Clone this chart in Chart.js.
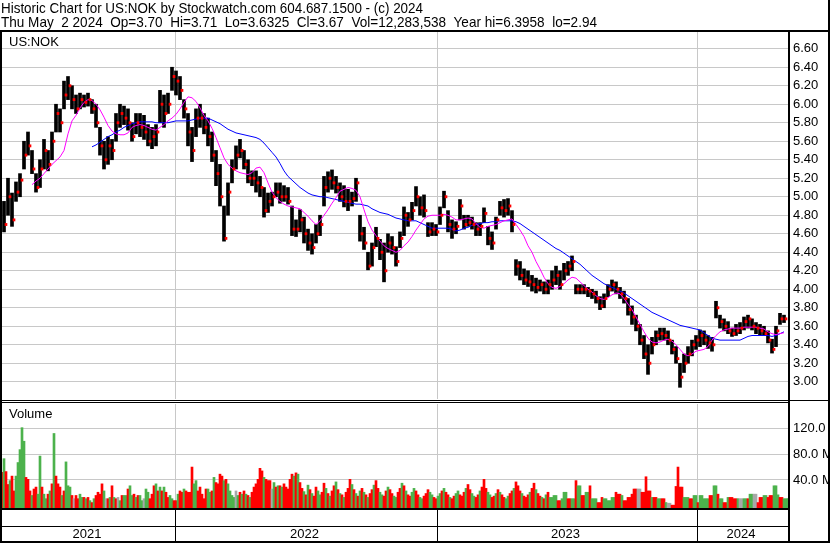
<!DOCTYPE html>
<html>
<head>
<meta charset="utf-8">
<script src="https://cdn.jsdelivr.net/npm/chart.js@4.4.1/dist/chart.umd.min.js"></script>
<style>
html,body{margin:0;padding:0;background:#fff;overflow:hidden;}
#wrap{position:relative;width:830px;height:543px;}
canvas{display:block;}
</style>
</head>
<body>
<div id="wrap"><canvas id="c" width="830" height="543"></canvas></div>
<script>
// ---------------- DATA ----------------
const titleLine1 = 'Historic Chart for US:NOK by Stockwatch.com 604.687.1500 - (c) 2024';
const titleLine2 = 'Thu May  2 2024  Op=3.70  Hi=3.71  Lo=3.6325  Cl=3.67  Vol=12,283,538  Year hi=6.3958  lo=2.94';
const symbolLabel = 'US:NOK';
const volumeLabel = 'Volume';

// trading-day positions
const yearLabels = ['2021', '2022', '2023', '2024'];
const yearStartDays = [173, 435, 695];
const firstDay = 0, lastDay = 786;

const priceTicks = [3.00, 3.20, 3.40, 3.60, 3.80, 4.00, 4.20, 4.40, 4.60, 4.80, 5.00, 5.20, 5.40, 5.60, 5.80, 6.00, 6.20, 6.40, 6.60];
const volumeTicks = [40, 80, 120]; // millions

// price bars, one per 4 trading days
const priceLow = [
4.62,4.80,4.68,4.95,5.00,5.30,5.45,5.25,5.05,5.10,5.30,5.28,5.40,5.70,5.70,5.95,6.05,5.95,5.90,5.95,
5.97,5.98,5.90,5.75,5.45,5.30,5.35,5.40,5.60,5.75,5.78,5.72,5.60,5.68,5.65,5.62,5.55,5.52,5.55,5.80,
5.75,5.90,6.15,6.10,6.05,5.85,5.55,5.38,5.65,5.75,5.68,5.55,5.38,5.12,4.90,4.52,4.80,5.15,5.30,5.42,
5.30,5.15,5.12,5.05,5.00,4.78,4.83,4.90,5.00,4.93,4.95,4.92,4.58,4.57,4.62,4.50,4.42,4.38,4.50,4.58,
4.90,5.05,5.08,5.04,4.95,4.89,4.85,4.90,4.95,4.52,4.43,4.21,4.25,4.46,4.32,4.08,4.40,4.38,4.25,4.45,
4.58,4.68,4.75,4.90,4.80,4.78,4.57,4.58,4.58,4.70,4.88,4.62,4.55,4.60,4.75,4.65,4.68,4.65,4.58,4.58,
4.72,4.48,4.43,4.65,4.80,4.78,4.80,4.62,4.15,4.10,4.05,4.03,3.98,3.96,3.98,3.95,3.95,4.00,4.05,4.00,
4.10,4.15,4.20,3.95,3.95,3.95,3.92,3.90,3.85,3.78,3.80,3.92,3.98,3.95,3.90,3.85,3.72,3.62,3.55,3.40,
3.25,3.08,3.30,3.40,3.45,3.45,3.40,3.30,3.20,2.94,3.10,3.20,3.28,3.35,3.38,3.40,3.36,3.33,3.69,3.58,
3.55,3.52,3.49,3.50,3.52,3.56,3.58,3.56,3.52,3.50,3.50,3.42,3.31,3.38,3.62,3.64];
const priceHigh = [
4.95,5.20,5.04,5.16,5.25,5.60,5.70,5.50,5.25,5.40,5.62,5.50,5.70,6.00,5.95,6.25,6.30,6.20,6.10,6.12,
6.10,6.12,6.05,6.00,5.75,5.60,5.65,5.62,5.90,6.00,5.98,5.95,5.80,5.90,5.90,5.88,5.78,5.75,5.78,6.15,
6.10,6.12,6.40,6.36,6.30,6.05,5.90,5.75,5.95,6.00,5.90,5.85,5.70,5.50,5.35,4.90,5.15,5.40,5.55,5.62,
5.50,5.40,5.28,5.28,5.22,5.10,5.04,5.05,5.15,5.15,5.12,5.10,4.90,4.75,4.86,4.78,4.65,4.60,4.70,4.80,
5.22,5.27,5.29,5.22,5.15,5.12,5.08,5.05,5.20,4.80,4.67,4.40,4.50,4.67,4.54,4.50,4.60,4.57,4.46,4.62,
4.89,4.83,4.94,5.11,5.00,5.02,4.72,4.72,4.70,4.89,5.06,4.85,4.75,4.73,4.97,4.80,4.80,4.78,4.72,4.72,
4.88,4.68,4.62,4.78,4.95,4.97,4.98,4.85,4.32,4.30,4.22,4.20,4.15,4.12,4.10,4.08,4.10,4.20,4.25,4.20,
4.28,4.30,4.36,4.05,4.05,4.05,4.02,4.00,3.98,3.92,3.95,4.05,4.10,4.08,4.02,3.98,3.90,3.82,3.72,3.62,
3.50,3.40,3.48,3.55,3.58,3.58,3.55,3.45,3.38,3.20,3.30,3.38,3.45,3.50,3.56,3.55,3.50,3.48,3.87,3.72,
3.68,3.65,3.58,3.62,3.64,3.70,3.72,3.68,3.64,3.62,3.60,3.55,3.46,3.60,3.74,3.72];
const priceClose = [
4.70,5.00,4.75,5.05,5.18,5.45,5.55,5.30,5.10,5.30,5.50,5.35,5.60,5.90,5.80,6.10,6.20,6.05,5.95,6.05,
6.02,6.05,5.95,5.80,5.55,5.40,5.55,5.50,5.80,5.90,5.85,5.80,5.65,5.80,5.75,5.70,5.60,5.65,5.70,6.00,
5.90,6.00,6.30,6.25,6.15,5.95,5.70,5.50,5.85,5.85,5.75,5.65,5.45,5.25,5.00,4.55,5.05,5.30,5.45,5.50,
5.35,5.20,5.20,5.15,5.10,4.85,4.95,5.00,5.05,5.00,5.00,4.95,4.65,4.65,4.75,4.60,4.50,4.45,4.60,4.70,
5.10,5.20,5.15,5.10,5.00,4.95,4.95,4.98,5.15,4.60,4.50,4.25,4.45,4.55,4.40,4.20,4.50,4.45,4.30,4.55,
4.80,4.75,4.85,5.00,4.88,4.85,4.62,4.65,4.62,4.80,5.00,4.70,4.65,4.68,4.90,4.70,4.72,4.70,4.65,4.68,
4.82,4.55,4.50,4.75,4.88,4.85,4.90,4.70,4.25,4.15,4.10,4.08,4.05,4.02,4.05,4.00,4.05,4.10,4.15,4.05,
4.20,4.25,4.30,4.00,4.00,4.00,3.98,3.95,3.90,3.82,3.90,4.00,4.05,4.00,3.95,3.90,3.78,3.70,3.60,3.45,
3.30,3.20,3.40,3.50,3.52,3.50,3.45,3.35,3.25,3.05,3.20,3.30,3.40,3.45,3.50,3.45,3.42,3.40,3.80,3.65,
3.60,3.55,3.52,3.55,3.58,3.65,3.68,3.60,3.58,3.55,3.52,3.45,3.35,3.55,3.68,3.68];

// moving averages sampled at the same 4-day slots (null = not yet defined)
const maFast = [
null,null,null,null,null,null,null,5.13,5.17,5.20,5.25,5.30,5.35,5.39,5.43,5.50,5.68,5.82,5.88,5.96,
6.02,6.05,6.04,6.00,5.94,5.86,5.77,5.71,5.68,5.67,5.67,5.69,5.75,5.77,5.78,5.77,5.75,5.73,5.72,5.75,
5.78,5.82,5.85,5.89,5.95,6.02,6.08,6.07,6.03,5.96,5.88,5.82,5.74,5.64,5.53,5.42,5.35,5.31,5.28,5.26,
5.25,5.24,5.26,5.31,5.32,5.26,5.15,5.05,4.99,4.95,4.92,4.90,4.89,4.88,4.87,4.83,4.79,4.74,4.70,4.74,
4.80,4.86,4.93,4.99,5.06,5.08,5.10,5.09,5.07,5.00,4.86,4.73,4.64,4.58,4.52,4.47,4.44,4.42,4.40,4.42,
4.47,4.51,4.57,4.64,4.70,4.76,4.79,4.80,4.80,4.80,4.81,4.80,4.78,4.75,4.75,4.76,4.77,4.76,4.71,4.67,
4.66,4.68,4.69,4.70,4.72,4.74,4.75,4.76,4.70,4.64,4.57,4.47,4.40,4.30,4.22,4.13,4.06,4.02,4.01,4.03,
4.06,4.10,4.13,4.12,4.08,4.04,4.00,3.97,3.93,3.90,3.89,3.91,3.94,3.96,3.95,3.90,3.84,3.78,3.70,3.62,
3.54,3.47,3.43,3.42,3.43,3.45,3.46,3.44,3.40,3.35,3.30,3.28,3.30,3.33,3.34,3.35,3.38,3.45,3.50,3.54,
3.56,3.57,3.58,3.58,3.58,3.59,3.59,3.59,3.59,3.58,3.57,3.54,3.52,3.51,3.52,3.53];
const maSlow = [
null,null,null,null,null,null,null,null,null,null,null,null,null,null,null,null,null,null,null,null,
null,null,5.54,5.56,5.59,5.62,5.65,5.67,5.70,5.72,5.75,5.77,5.79,5.80,5.81,5.81,5.81,5.81,5.80,5.80,
5.80,5.80,5.81,5.82,5.82,5.82,5.82,5.83,5.84,5.85,5.85,5.85,5.83,5.81,5.79,5.76,5.73,5.71,5.69,5.68,
5.67,5.66,5.65,5.64,5.62,5.58,5.53,5.48,5.43,5.36,5.28,5.22,5.18,5.14,5.10,5.07,5.04,5.02,5.01,5.00,
5.00,4.99,4.98,4.97,4.96,4.95,4.94,4.93,4.92,4.92,4.91,4.90,4.87,4.85,4.83,4.82,4.81,4.79,4.77,4.76,
4.75,4.74,4.74,4.74,4.72,4.70,4.68,4.66,4.66,4.66,4.66,4.66,4.65,4.63,4.64,4.66,4.67,4.69,4.70,4.71,
4.72,4.72,4.73,4.73,4.74,4.74,4.74,4.74,4.73,4.71,4.68,4.65,4.62,4.59,4.56,4.53,4.50,4.47,4.44,4.42,
4.39,4.36,4.33,4.30,4.27,4.23,4.19,4.15,4.12,4.09,4.06,4.04,4.02,4.00,3.98,3.96,3.93,3.90,3.87,3.84,
3.81,3.78,3.75,3.73,3.71,3.69,3.67,3.65,3.63,3.61,3.60,3.59,3.58,3.57,3.56,3.53,3.50,3.47,3.46,3.45,
3.45,3.45,3.45,3.45,3.45,3.47,3.49,3.50,3.50,3.50,3.50,3.50,3.49,3.50,3.52,3.54];

// volume in millions, one bar per 2 trading days; direction G=up R=down N=unchanged
const volume = [
52,73,53,33,39,46,23,46,67,87, 121,100,44,41,23,16,26,29,18,77, 29,18,11,18,23,34,112,46,34,29,
16,23,68,31,29,16,11,16,11,18, 13,13,11,13,8,5,11,16,21,18, 34,23,11,11,13,31,13,11,13,8,
16,16,16,26,31,16,18,13,16,16, 8,11,26,21,11,18,31,34,23,29, 23,29,21,13,16,11,8,8,18,23,
21,26,23,21,21,60,34,39,23,29, 18,11,26,26,21,23,44,36,34,49, 46,39,41,34,23,16,13,23,16,21,
18,23,18,16,13,21,29,34,41,58, 54,44,41,39,39,26,36,29,31,31, 29,34,29,26,41,49,46,51,49,36,
27,22,17,32,25,19,15,29,23,17, 21,35,27,19,15,23,31,37,25,19, 17,13,21,27,41,33,25,19,15,23,
27,21,17,13,19,25,32,39,27,21, 17,15,23,29,25,19,15,13,21,27, 35,31,23,17,15,21,27,23,17,13,
11,15,19,25,21,17,13,11,15,19, 23,27,21,17,13,11,15,19,23,17, 15,21,27,33,25,19,15,13,17,23,
29,41,27,21,17,13,15,19,25,21, 17,13,11,15,19,23,27,37,31,23, 19,15,13,17,21,27,35,25,19,15,
13,11,17,21,13,
13,16,16,8,8,11,21,21,11,11, 11,11,39,31,31,16,16,21,21,31, 11,11,11,5,5,13,11,11,8,8,
13,13,21,18,18,16,8,8,13,13, 18,26,26,26,26,21,21,45,23,23, 13,13,13,11,11,11,11,5,4,4,
1,1,30,60,29,29,13,13,13,11, 11,16,16,5,16,16,11,11,11,16, 16,31,31,18,11,11,5,5,13,13,
13,11,11,11,11,11,11,11,11,18, 18,18,18,5,13,13,16,16,13,16, 16,31,31,17,13,13,11,11,11];
const volumeDir =
'RGRRGRRGGG'+'GGRRRGRRGG'+'RGGRGRGRRR'+'GRGGGRNRRG'+'GRGRGRGRRR'+'RGNRGRGRNG'+
'RGGRGGRGRG'+'GNGGRRRGRG'+'RGRRGGRRGR'+'RGRRRRGGRR'+'RRRGGRGRRR'+'RGRGGGGNGR'+
'GRGRGRRRRR'+'RGRRRNGRGR'+'GRRRRRGRGR'+
'RGRGRGRRGG'+'RRGRGRRGRG'+'RGRRRGRGRG'+'RGRGRRGRRG'+'GRRGRRGGRR'+'GRGRRGGRRG'+
'GRRRGGRRGG'+'RGRRGRRGGR'+'RRGRRGGRRG'+'RRRGGRRGRG'+'RRGGRRGRRR'+'GRRRGRRGRR'+'GRGRG'+
'GGGRRGGGRR'+'GGRGGRRGGR'+'GGGRRRGGGG'+'GGRRRGRRRR'+'RRRNNRRRRR'+'GRRGGRRGNN'+
'RRRRRRGGGR'+'RGGRGGGGGR'+'RGGRGGRRGR'+'RRRGNNGGRG'+'GNNRRRGGRR'+'RGGGRRGGG';

// ---------------- LAYOUT / STYLE ----------------
const W = 830, H = 543;
const FONT = '"Liberation Sans", Arial, Helvetica, sans-serif';
const GRID = '#c8c8c8';
const DIR_COLOR = { G: '#4cb24c', R: '#ff0000', N: '#a8a8a8' };
const PRICE_SLOT = 4, VOL_SLOT = 2;
const priceDay = i => PRICE_SLOT * i + 2;
const volDay = k => VOL_SLOT * k;

// stacked panels: price (top 369 px) and volume (bottom 107 px)
const PRICE_MIN = 2.792, PRICE_MAX = 6.781;
const VOL_MIN = -3.4, VOL_MAX = 162.3;
const PRICE_WEIGHT = 369, VOL_WEIGHT = 107;
const TITLE_W1 = 422, TITLE_W2 = 596;

const yearMid = [];
{
  const b = [firstDay, ...yearStartDays, lastDay];
  for (let i = 0; i < yearLabels.length; i++) yearMid.push((b[i] + b[i + 1]) / 2 - 1.5);
}
const xTickValues = [...yearMid, ...yearStartDays].sort((a, b) => a - b);
const xLabelFor = v => { const i = yearMid.indexOf(v); return i >= 0 ? yearLabels[i] : ''; };

Chart.defaults.font.family = FONT;
Chart.defaults.font.size = 13;
Chart.defaults.color = '#000';

function fitText(ctx, text, x, y, targetW) {
  const w = ctx.measureText(text).width;
  ctx.save();
  ctx.translate(x, y);
  ctx.scale(targetW / w, 1);
  ctx.fillText(text, 0, 0);
  ctx.restore();
}

const framePlugin = {
  id: 'frame',
  beforeDraw(chart) {
    const ctx = chart.ctx;
    ctx.save();
    ctx.fillStyle = '#fff';
    ctx.fillRect(0, 0, W, H);
    ctx.restore();
  },
  afterDraw(chart) {
    const { ctx, chartArea: a, scales } = chart;
    const sepTop = Math.round(scales.yP.bottom) - 1;
    ctx.save();
    // gap between price and volume panels
    ctx.fillStyle = '#fff';
    ctx.fillRect(a.left, sepTop - 1, a.right - a.left, 5);
    ctx.fillStyle = '#000';
    ctx.fillRect(0, sepTop, a.right, 1);
    ctx.fillRect(0, sepTop + 2, a.right, 1);
    ctx.fillRect(a.right, sepTop, W - a.right, 1);
    // date panel
    ctx.fillRect(0, a.bottom, a.right, 2);
    ctx.fillRect(0, a.bottom + 18, a.right, 1);
    yearStartDays.forEach(d => {
      const x = Math.floor(scales.x.getPixelForValue(d));
      ctx.fillRect(x, a.bottom + 2, 1, H - a.bottom - 4);
    });
    // outer frame + header rule + axis rule
    ctx.fillRect(0, 30, W, 2);
    ctx.fillRect(0, 30, 2, H - 30);
    ctx.fillRect(W - 2, 0, 2, H);
    ctx.fillRect(0, H - 2, W, 2);
    ctx.fillRect(a.right, 30, 2, H - 30);
    // texts
    ctx.textBaseline = 'alphabetic';
    ctx.textAlign = 'left';
    ctx.font = '15px ' + FONT;
    fitText(ctx, titleLine1, 1, 13, TITLE_W1);
    fitText(ctx, titleLine2, 1, 27, TITLE_W2);
    ctx.font = '13px ' + FONT;
    ctx.fillText(symbolLabel, 9, 46);
    ctx.fillText(volumeLabel, 9, 418);
    ctx.restore();
  }
};

const cfg = {
  type: 'line',
  data: {
    datasets: [
      {
        type: 'bar', label: 'close',
        data: priceClose.map((c, i) => ({ x: priceDay(i) + 2, y: [c - 0.012, c + 0.012] })),
        backgroundColor: '#ff0000', barThickness: 2, grouped: false,
        xAxisID: 'x', yAxisID: 'yP', order: 0
      },
      {
        type: 'line', label: 'MA fast',
        data: maFast.map((v, i) => ({ x: priceDay(i), y: v })),
        borderColor: '#ff00ff', borderWidth: 1, pointRadius: 0, tension: 0,
        xAxisID: 'x', yAxisID: 'yP', order: 1
      },
      {
        type: 'line', label: 'MA slow',
        data: maSlow.map((v, i) => ({ x: priceDay(i), y: v })),
        borderColor: '#0000ff', borderWidth: 1, pointRadius: 0, tension: 0,
        xAxisID: 'x', yAxisID: 'yP', order: 1
      },
      {
        type: 'bar', label: 'price',
        data: priceLow.map((l, i) => ({ x: priceDay(i), y: [l, priceHigh[i]] })),
        backgroundColor: '#000', barThickness: 3, grouped: false,
        xAxisID: 'x', yAxisID: 'yP', order: 2
      },
      {
        type: 'bar', label: 'volume',
        data: volume.map((v, k) => ({ x: volDay(k), y: [VOL_MIN, v] })),
        backgroundColor: volume.map((v, k) => DIR_COLOR[volumeDir[k]] || DIR_COLOR.N),
        barThickness: 2, grouped: false,
        xAxisID: 'x', yAxisID: 'yV', order: 3
      }
    ]
  },
  options: {
    responsive: false, animation: false, devicePixelRatio: 1, events: [],
    layout: { padding: { left: 2, right: 0, top: 32, bottom: 0 } },
    plugins: { legend: { display: false }, tooltip: { enabled: false }, title: { display: false } },
    scales: {
      x: {
        type: 'linear', position: 'bottom', min: firstDay, max: lastDay, offset: false,
        afterFit: s => { s.height = 35; },
        afterBuildTicks: s => { s.ticks = xTickValues.map(v => ({ value: v })); },
        ticks: { autoSkip: false, maxRotation: 0, minRotation: 0, padding: 19, color: '#000',
                 font: { size: 13 }, callback: v => xLabelFor(v) },
        grid: { offset: false, drawTicks: false, lineWidth: 1,
                color: c => (c.tick && yearStartDays.includes(c.tick.value)) ? GRID : 'rgba(0,0,0,0)' },
        border: { display: false }
      },
      yP: {
        type: 'linear', position: 'right', stack: 'panels', stackWeight: PRICE_WEIGHT, weight: 1,
        min: PRICE_MIN, max: PRICE_MAX,
        afterFit: s => { s.width = 42; },
        afterBuildTicks: s => { s.ticks = priceTicks.map(v => ({ value: v })); },
        ticks: { autoSkip: false, padding: 5, color: '#000', font: { size: 13 }, callback: v => Number(v).toFixed(2) },
        grid: { drawTicks: false, color: GRID, lineWidth: 1 },
        border: { display: false }
      },
      yV: {
        type: 'linear', position: 'right', stack: 'panels', stackWeight: VOL_WEIGHT, weight: 2,
        min: VOL_MIN, max: VOL_MAX,
        afterFit: s => { s.width = 42; },
        afterBuildTicks: s => { s.ticks = volumeTicks.map(v => ({ value: v })); },
        ticks: { autoSkip: false, padding: 5, color: '#000', font: { size: 13 }, callback: v => Number(v).toFixed(1) + ' M' },
        grid: { drawTicks: false, color: GRID, lineWidth: 1 },
        border: { display: false }
      }
    }
  },
  plugins: [framePlugin]
};

new Chart(document.getElementById('c'), cfg);
</script>
</body>
</html>
